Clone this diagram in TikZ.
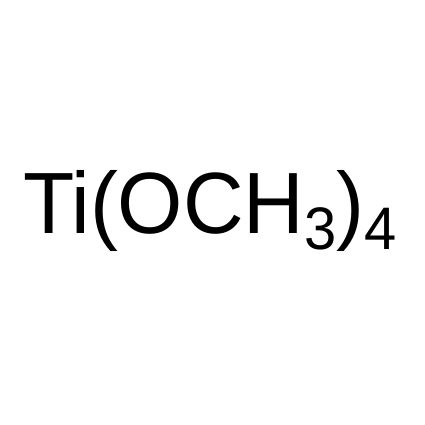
\documentclass[tikz,border=0pt]{standalone}
\usepackage{fontspec}
\setmainfont[FakeStretch=0.965]{Liberation Sans}
\newcommand{\subidx}[1]{\raisebox{-16pt}{\fontsize{60}{60}\selectfont #1}}
\tikzset{formula/.style={inner sep=0pt,font=\fontsize{87}{87}\selectfont}}
\begin{document}
\begin{tikzpicture}[x=1pt,y=1pt]
  \useasboundingbox (0,0) rectangle (425,425);
  \node[formula,anchor=base west] (ti) at (23,191) {Ti(OCH\subidx{3})\subidx{4}};
\end{tikzpicture}
\end{document}
